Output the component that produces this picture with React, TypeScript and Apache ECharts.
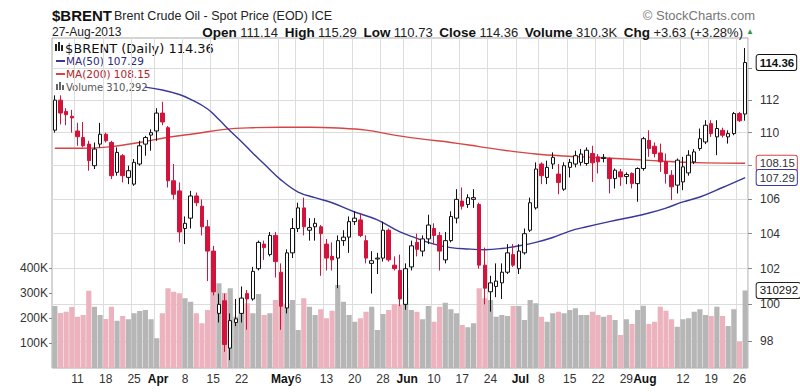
import React, { useEffect, useRef } from "react";
import * as echarts from "echarts";

// ---- trading days (2013) ----
const marchDays = [5, 6, 7, 8, 11, 12, 13, 14, 15, 18, 19, 20, 21, 22, 25, 26, 27, 28];
const aprilDays = [1, 2, 3, 4, 5, 8, 9, 10, 11, 12, 15, 16, 17, 18, 19, 22, 23, 24, 25, 26, 29, 30];
const mayDays = [1, 2, 3, 6, 7, 8, 9, 10, 13, 14, 15, 16, 17, 20, 21, 22, 23, 24, 28, 29, 30, 31];
const juneDays = [3, 4, 5, 6, 7, 10, 11, 12, 13, 14, 17, 18, 19, 20, 21, 24, 25, 26, 27, 28];
const julyDays = [1, 2, 3, 5, 8, 9, 10, 11, 12, 15, 16, 17, 18, 19, 22, 23, 24, 25, 26, 29, 30, 31];
const augustDays = [1, 2, 5, 6, 7, 8, 9, 12, 13, 14, 15, 16, 19, 20, 21, 22, 23, 26, 27];

// ---- OHLC ----
const openPrices = [
  110.15, 112.0, 111.3, 111.0, 110.1, 109.7, 109.3, 108.0, 109.3, 109.9,
  109.4, 107.6, 108.6, 107.3, 106.9, 108.1, 109.3, 109.85, 110.1, 111.2,
  110.3, 107.1, 106.5, 104.3, 104.9, 106.2, 105.6, 104.4, 103.0, 99.5,
  100.2, 97.6, 99.0, 99.5, 100.6, 100.3, 102.0, 103.4, 102.8, 103.9,
  101.8, 99.8, 102.9, 104.3, 105.5, 104.2, 104.4, 104.4, 103.4, 102.7,
  102.6, 103.6, 103.8, 104.7, 104.8, 103.6, 102.3, 102.55, 102.6, 104.2,
  102.2, 101.9, 100.0, 102.1, 103.5, 103.0, 103.7, 104.3, 103.9, 102.5,
  103.6, 104.9, 105.9, 105.7, 106.0, 105.7, 102.2, 100.7, 101.0, 101.2,
  101.8, 102.8, 102.0, 102.9, 104.2, 105.5, 108.1, 107.3, 108.1, 107.5,
  106.6, 107.9, 108.1, 108.2, 108.13, 108.73, 108.53, 108.43, 108.43, 107.23,
  107.63, 107.35, 107.53, 106.93, 107.83, 109.53, 109.17, 108.77, 108.23, 107.43,
  106.84, 107.03, 107.57, 108.23, 109.03, 109.43, 110.55, 109.74, 110.14, 109.74,
  109.94, 111.17, 111.14,
];
const highPrices = [
  112.3, 112.3, 111.5, 111.4, 110.6, 110.65, 109.5, 109.4, 110.6, 110.0,
  109.5, 109.1, 108.7, 108.0, 108.4, 109.5, 109.8, 110.2, 111.5, 111.9,
  110.4, 108.1, 107.0, 105.0, 106.5, 106.4, 106.0, 104.8, 103.3, 100.6,
  100.6, 99.5, 100.3, 101.0, 100.8, 102.1, 103.6, 103.6, 104.1, 104.1,
  102.3, 103.1, 104.9, 105.8, 106.1, 104.9, 104.9, 104.5, 103.7, 103.5,
  103.9, 104.2, 105.0, 105.3, 105.2, 103.9, 103.0, 102.9, 104.7, 104.3,
  102.7, 102.8, 102.3, 103.6, 104.0, 103.9, 105.1, 104.6, 104.1, 104.1,
  105.3, 106.6, 106.7, 106.3, 106.6, 105.8, 103.2, 101.6, 102.3, 102.3,
  103.4, 103.4, 103.4, 104.3, 106.1, 108.2, 108.2, 108.3, 108.8, 108.1,
  108.2, 108.4, 108.9, 109.0, 109.1, 109.2, 108.7, 108.7, 108.5, 107.83,
  107.8, 107.6, 107.6, 107.9, 109.74, 110.14, 109.4, 109.33, 108.73, 107.73,
  108.43, 108.53, 108.93, 109.0, 110.25, 110.76, 110.76, 110.76, 110.3, 110.14,
  111.27, 111.27, 115.29,
];
const lowPrices = [
  110.0, 110.5, 110.45, 110.0, 109.2, 109.1, 107.7, 107.8, 109.1, 109.4,
  107.2, 107.4, 107.0, 106.9, 106.8, 108.0, 108.6, 108.9, 109.5, 110.45,
  106.7, 106.0, 103.5, 103.4, 104.3, 105.6, 103.9, 101.3, 100.5, 99.0,
  97.4, 96.95, 98.8, 99.0, 98.6, 100.2, 101.9, 102.5, 102.7, 101.5,
  98.6, 99.5, 102.6, 104.1, 103.9, 103.6, 103.6, 101.6, 101.9, 101.9,
  100.9, 103.3, 102.9, 104.5, 103.8, 102.3, 100.6, 101.7, 102.4, 102.4,
  101.9, 99.9, 99.7, 101.9, 102.7, 102.7, 103.4, 103.4, 101.9, 102.3,
  103.5, 104.6, 105.4, 105.5, 105.5, 102.0, 100.0, 99.6, 100.4, 100.3,
  101.7, 102.1, 101.7, 102.8, 104.1, 105.4, 106.9, 106.9, 107.8, 106.3,
  106.5, 107.3, 107.9, 108.0, 108.0, 107.03, 107.53, 108.2, 106.35, 106.64,
  106.8, 106.9, 106.64, 105.86, 107.7, 108.53, 108.5, 107.63, 106.93, 105.96,
  106.35, 106.54, 107.4, 108.1, 108.9, 109.3, 109.74, 108.63, 109.7, 109.33,
  109.84, 110.65, 110.73,
];
const closePrices = [
  112.0, 111.2, 111.1, 110.9, 109.75, 109.2, 108.3, 109.0, 109.9, 109.5,
  107.4, 108.8, 107.4, 107.7, 108.2, 109.2, 109.7, 110.0, 111.2, 110.65,
  107.1, 106.3, 104.1, 104.6, 106.2, 105.8, 104.4, 103.0, 100.7, 100.0,
  97.8, 99.1, 99.2, 100.35, 100.3, 101.85, 103.5, 103.2, 103.9, 102.4,
  99.9, 102.9, 104.3, 105.5, 104.4, 104.35, 104.6, 104.0, 102.6, 102.5,
  103.6, 103.8, 104.7, 104.9, 103.9, 102.6, 102.45, 102.6, 104.2, 102.5,
  102.0, 100.3, 102.0, 103.3, 103.1, 103.7, 104.5, 103.9, 103.0, 103.6,
  105.0, 106.0, 105.6, 106.1, 106.1, 102.2, 100.9, 101.2, 101.3, 101.8,
  102.9, 102.2, 103.0, 104.0, 105.8, 107.8, 107.4, 107.9, 108.5, 107.0,
  108.0, 108.2, 108.6, 108.7, 108.93, 108.17, 108.23, 108.5, 107.23, 107.73,
  107.33, 107.47, 106.93, 107.83, 109.63, 109.03, 108.73, 108.23, 107.53, 106.74,
  108.33, 107.93, 108.63, 108.83, 109.63, 110.45, 109.94, 110.25, 109.84, 109.94,
  111.17, 110.73, 114.36,
];
// volume in thousands
const volumeK = [
  248, 220, 225, 244, 205, 212, 309, 245, 212, 196,
  245, 189, 208, 195, 219, 228, 232, 195, 119, 219,
  319, 305, 299, 279, 265, 219, 179, 232, 355, 339,
  300, 319, 205, 245, 259, 219, 296, 212, 219, 272,
  259, 256, 272, 152, 279, 245, 212, 235, 199, 229,
  332, 265, 212, 185, 199, 225, 245, 152, 216, 232,
  256, 252, 319, 232, 225, 195, 248, 185, 245, 261,
  235, 219, 172, 163, 179, 319, 279, 272, 205, 212,
  208, 248, 248, 192, 272, 259, 205, 185, 219, 225,
  219, 232, 239, 212, 212, 225, 212, 205, 212, 192,
  132, 195, 176, 232, 249, 176, 185, 245, 229, 195,
  165, 195, 199, 225, 235, 212, 208, 245, 208, 168,
  235, 105, 310.292,
];

// moving averages (date, value)
const ma50Points: [string, number][] = [
  ["2013-03-27", 112.81], ["2013-04-02", 112.63], ["2013-04-05", 112.35], ["2013-04-09", 112.05],
  ["2013-04-12", 111.45], ["2013-04-16", 110.8], ["2013-04-18", 110.1], ["2013-04-22", 109.45],
  ["2013-04-24", 108.75], ["2013-04-26", 108.1], ["2013-05-01", 107.14], ["2013-05-06", 106.43],
  ["2013-05-09", 106.1], ["2013-05-14", 105.8], ["2013-05-20", 105.26], ["2013-05-24", 104.8],
  ["2013-05-31", 104.1], ["2013-06-04", 103.85], ["2013-06-10", 103.4], ["2013-06-13", 103.2],
  ["2013-06-18", 103.12], ["2013-06-21", 103.08], ["2013-06-26", 103.15], ["2013-07-01", 103.3],
  ["2013-07-05", 103.5], ["2013-07-10", 103.78], ["2013-07-15", 104.15], ["2013-07-18", 104.4],
  ["2013-07-24", 104.7], ["2013-07-30", 104.97], ["2013-08-02", 105.2], ["2013-08-07", 105.49],
  ["2013-08-12", 105.85], ["2013-08-15", 106.14], ["2013-08-21", 106.7], ["2013-08-27", 107.29],
];
const ma200Points: [string, number][] = [
  ["2013-03-05", 109.05], ["2013-03-12", 109.05], ["2013-03-19", 109.15], ["2013-03-26", 109.4],
  ["2013-04-03", 109.72], ["2013-04-10", 109.95], ["2013-04-17", 110.2], ["2013-04-24", 110.3],
  ["2013-05-01", 110.33], ["2013-05-08", 110.33], ["2013-05-15", 110.28], ["2013-05-22", 110.15],
  ["2013-05-30", 109.85], ["2013-06-06", 109.6], ["2013-06-13", 109.4], ["2013-06-20", 109.15],
  ["2013-06-27", 108.9], ["2013-07-05", 108.7], ["2013-07-12", 108.58], ["2013-07-19", 108.5],
  ["2013-07-26", 108.42], ["2013-08-02", 108.32], ["2013-08-09", 108.22], ["2013-08-16", 108.17],
  ["2013-08-27", 108.15],
];

const xTickLabels: [string, string][] = [
  ["2013-03-11", "11"], ["2013-03-18", "18"], ["2013-03-25", "25"], ["2013-04-01", "Apr"],
  ["2013-04-08", "8"], ["2013-04-15", "15"], ["2013-04-22", "22"], ["2013-05-01", "May"],
  ["2013-05-06", "6"], ["2013-05-13", "13"], ["2013-05-20", "20"], ["2013-05-28", "28"],
  ["2013-06-03", "Jun"], ["2013-06-10", "10"], ["2013-06-17", "17"], ["2013-06-24", "24"],
  ["2013-07-01", "Jul"], ["2013-07-08", "8"], ["2013-07-15", "15"], ["2013-07-22", "22"],
  ["2013-07-29", "29"], ["2013-08-01", "Aug"], ["2013-08-12", "12"], ["2013-08-19", "19"],
  ["2013-08-26", "26"],
];
// grid lines / ticks on the price axis; 108 and 114 labels sit under the callouts
const priceTicks = [98, 100, 102, 104, 106, 108, 110, 112, 114];
const priceLabels = [98, 100, 102, 104, 106, 110, 112];
const volumeTicks = [100000, 200000, 300000, 400000];
const priceRange = [96.53, 115.93];
const volumeMax = 1320000;

const FONT = '"Liberation Sans", Arial, sans-serif';
const LEGEND_FONT = '"DejaVu Sans", Verdana, sans-serif';
const RED = "#d2143c";
const PINK = "#ecb2bd";
const GRAY = "#b6b6b6";
const MA50_COLOR = "#38389a";
const MA200_COLOR = "#d64545";

const pad = (n: number) => String(n).padStart(2, "0");
const dates: string[] = [
  ...marchDays.map((d) => `2013-03-${pad(d)}`),
  ...aprilDays.map((d) => `2013-04-${pad(d)}`),
  ...mayDays.map((d) => `2013-05-${pad(d)}`),
  ...juneDays.map((d) => `2013-06-${pad(d)}`),
  ...julyDays.map((d) => `2013-07-${pad(d)}`),
  ...augustDays.map((d) => `2013-08-${pad(d)}`),
];

export default function App() {
  const ref = useRef<HTMLDivElement>(null);

  useEffect(() => {
    document.body.style.margin = "0";
    if (!ref.current) return;
    const chart = echarts.init(ref.current, undefined, { renderer: "svg" });

    const tickMap = new Map(xTickLabels);
    const isTick = (_i: number, v: string) => tickMap.has(v);
    const last = dates.length - 1;
    const lastDate = dates[last];

    const candleData = dates.map((_, i) => [
      Math.log(openPrices[i]),
      Math.log(closePrices[i]),
      Math.log(lowPrices[i]),
      Math.log(highPrices[i]),
    ]);
    const volData = volumeK.map((v, i) => ({
      value: v * 1000,
      itemStyle: { color: closePrices[i] < openPrices[i] ? PINK : GRAY },
    }));
    const toSeries = (pts: [string, number][]) => {
      const m = new Map(pts);
      return dates.map((d) => (m.has(d) ? Math.log(m.get(d) as number) : null));
    };
    const ma50 = toSeries(ma50Points);
    const ma200 = toSeries(ma200Points);
    const ma50Last = ma50Points[ma50Points.length - 1][1];
    const ma200Last = ma200Points[ma200Points.length - 1][1];
    const closeLast = closePrices[last];
    const volLast = Math.round(volumeK[last] * 1000);

    const callout = (coord: any[], text: string, border: string, bold: boolean, color: string) => ({
      symbol: "rect",
      symbolSize: 1,
      silent: true,
      itemStyle: { color: "rgba(0,0,0,0)" },
      label: {
        show: true,
        position: "right",
        distance: 11,
        formatter: text,
        fontFamily: FONT,
        fontSize: 11.5,
        fontWeight: bold ? "bold" : "normal",
        color,
        backgroundColor: "#fff",
        borderColor: border,
        borderWidth: 1,
        borderRadius: 2,
        padding: [2, 2, 1, 3],
      },
      data: [{ coord, value: text }],
    });

    const header = [
      { type: "text", x: 52, y: 15, style: { text: "$BRENT", font: `bold 15px ${FONT}`, fill: "#111", textVerticalAlign: "middle" } },
      { type: "text", x: 114, y: 16, style: { text: "Brent Crude Oil - Spot Price (EOD) ICE", font: `12.5px ${FONT}`, fill: "#222", textVerticalAlign: "middle" } },
      { type: "text", x: 52, y: 32, style: { text: "27-Aug-2013", font: `12px ${FONT}`, fill: "#222", textVerticalAlign: "middle" } },
      { type: "text", x: 755, y: 15, style: { text: "© StockCharts.com", font: `13px ${FONT}`, fill: "#777", textAlign: "right", textVerticalAlign: "middle" } },
      {
        type: "text", x: 743, y: 32,
        style: {
          text: "{b|Open} {n|111.14}  {b|High} {n|115.29}  {b|Low} {n|110.73}  {b|Close} {n|114.36}  {b|Volume} {n|310.3K}  {b|Chg} {n|+3.63 (+3.28%)}",
          textAlign: "right", textVerticalAlign: "middle",
          rich: {
            b: { font: `bold 13.5px ${FONT}`, fill: "#111" },
            n: { font: `13px ${FONT}`, fill: "#222" },
          },
        },
      },
      { type: "text", x: 750, y: 31, style: { text: "▲", font: `8px ${FONT}`, fill: "#2e9e3e", textAlign: "center", textVerticalAlign: "middle" } },
    ];
    const legend = [
      { type: "rect", shape: { x: 55, y: 44, width: 2, height: 7 }, style: { fill: "#222" } },
      { type: "rect", shape: { x: 58, y: 42, width: 2, height: 9 }, style: { fill: "#222" } },
      { type: "rect", shape: { x: 61, y: 45, width: 2, height: 6 }, style: { fill: "#222" } },
      { type: "text", x: 65, y: 48, style: { text: "$BRENT (Daily) 114.36", font: `13px ${LEGEND_FONT}`, fill: "#111", textVerticalAlign: "middle" } },
      { type: "line", shape: { x1: 56, y1: 61, x2: 65, y2: 61 }, style: { stroke: MA50_COLOR, lineWidth: 2 } },
      { type: "text", x: 66, y: 61, style: { text: "MA(50) 107.29", font: `10.5px ${LEGEND_FONT}`, fill: "#2b2b80", textVerticalAlign: "middle" } },
      { type: "line", shape: { x1: 56, y1: 74, x2: 65, y2: 74 }, style: { stroke: MA200_COLOR, lineWidth: 2 } },
      { type: "text", x: 66, y: 74, style: { text: "MA(200) 108.15", font: `10.5px ${LEGEND_FONT}`, fill: "#b3242c", textVerticalAlign: "middle" } },
      { type: "rect", shape: { x: 56, y: 84, width: 2, height: 6 }, style: { fill: "#666" } },
      { type: "rect", shape: { x: 59, y: 82, width: 2, height: 8 }, style: { fill: "#666" } },
      { type: "rect", shape: { x: 62, y: 85, width: 2, height: 5 }, style: { fill: "#666" } },
      { type: "text", x: 66, y: 87, style: { text: "Volume 310,292", font: `10px ${LEGEND_FONT}`, fill: "#555", textVerticalAlign: "middle" } },
    ];

    chart.setOption({
      animation: false,
      backgroundColor: "#fff",
      textStyle: { fontFamily: FONT },
      grid: {
        left: 52, top: 38, width: 696, height: 330,
        show: true, borderColor: "#aaa", borderWidth: 1, backgroundColor: "#fff",
      },
      xAxis: {
        type: "category",
        data: dates,
        boundaryGap: true,
        axisLine: { show: false },
        axisTick: { show: false },
        axisLabel: {
          interval: isTick,
          margin: 5,
          fontFamily: FONT,
          fontSize: 12,
          color: "#333",
          formatter: (v: string) => {
            const t = tickMap.get(v) || "";
            return /^[A-Z]/.test(t) ? `{m|${t}}` : t;
          },
          rich: { m: { fontFamily: FONT, fontWeight: "bold", fontSize: 12, color: "#111", padding: [0, 0, 0, 3] } },
        },
        splitLine: { show: true, interval: isTick, lineStyle: { color: "#dcdcdc", width: 1 } },
      },
      yAxis: [
        {
          type: "value",
          position: "right",
          min: Math.log(priceRange[0]),
          max: Math.log(priceRange[1]),
          axisLine: { show: false },
          axisTick: { show: true, length: 4, customValues: priceTicks.map(Math.log), lineStyle: { color: "#888" } },
          axisLabel: {
            customValues: priceLabels.map(Math.log),
            formatter: (v: number) => String(Math.round(Math.exp(v))),
            fontFamily: FONT, fontSize: 12, color: "#333", margin: 12,
          },
          splitLine: { show: true, lineStyle: { color: "#dcdcdc", width: 1 } },
        },
        {
          type: "value",
          position: "left",
          min: 0,
          max: volumeMax,
          axisLine: { show: false },
          axisTick: { show: true, length: 3, customValues: volumeTicks, lineStyle: { color: "#888" } },
          axisLabel: {
            customValues: volumeTicks,
            formatter: (v: number) => `${v / 1000}K`,
            fontFamily: FONT, fontSize: 12, color: "#333", margin: 4,
          },
          splitLine: { show: false },
        },
      ],
      series: [
        {
          type: "bar",
          yAxisIndex: 1,
          data: volData,
          barWidth: "92%",
          silent: true,
          z: 1,
          markPoint: callout([lastDate, volLast], String(volLast), "#222", false, "#111"),
        },
        {
          type: "line",
          yAxisIndex: 0,
          data: ma200,
          connectNulls: true,
          smooth: 0.4,
          showSymbol: false,
          lineStyle: { color: MA200_COLOR, width: 1.4 },
          z: 2,
          markPoint: callout([lastDate, Math.log(ma200Last)], ma200Last.toFixed(2), MA200_COLOR, false, "#333"),
        },
        {
          type: "line",
          yAxisIndex: 0,
          data: ma50,
          connectNulls: true,
          smooth: 0.4,
          showSymbol: false,
          lineStyle: { color: MA50_COLOR, width: 1.4 },
          z: 2,
          markPoint: callout([lastDate, Math.log(ma50Last)], ma50Last.toFixed(2), MA50_COLOR, false, "#333"),
        },
        {
          type: "candlestick",
          yAxisIndex: 0,
          data: candleData,
          barWidth: 4,
          z: 3,
          itemStyle: {
            color: "#fff",
            color0: RED,
            borderColor: "#111",
            borderColor0: RED,
            borderWidth: 1,
          },
          markPoint: callout([lastDate, Math.log(closeLast)], closeLast.toFixed(2), "#111", true, "#111"),
        },
      ],
      graphic: [...header, ...legend],
    });

    return () => chart.dispose();
  }, []);

  return <div ref={ref} style={{ width: 800, height: 392 }} />;
}
